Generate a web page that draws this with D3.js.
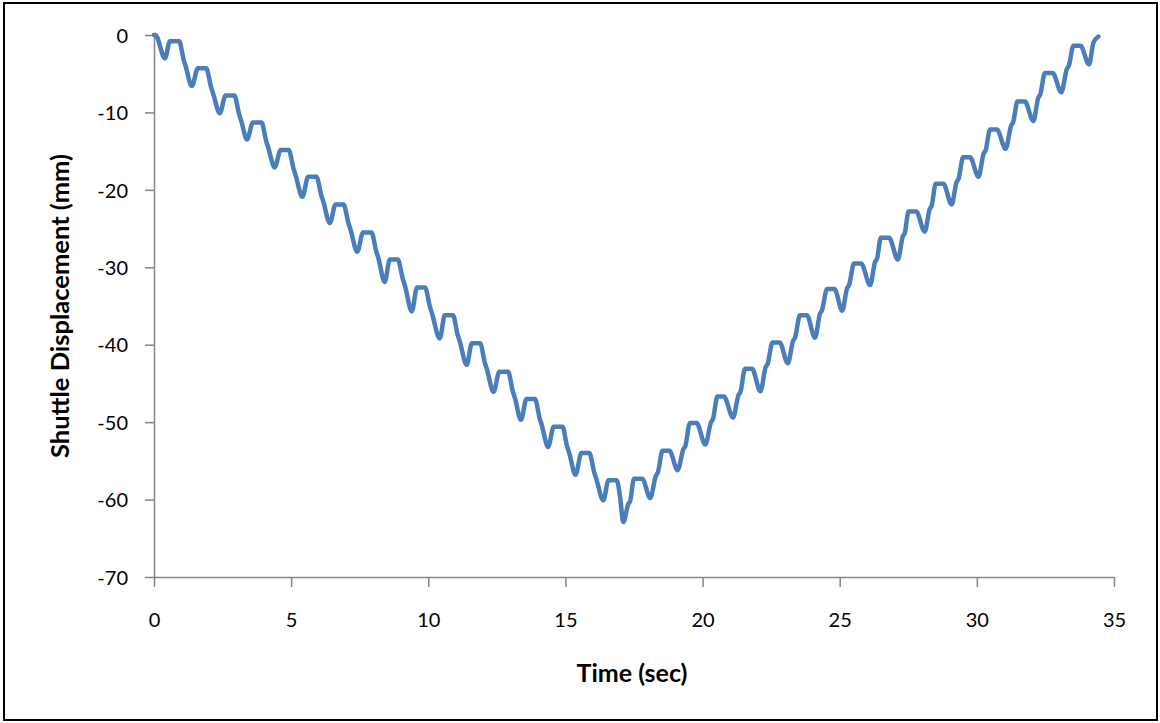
<!DOCTYPE html>
<html>
<head>
<meta charset="utf-8">
<script src="https://cdn.jsdelivr.net/npm/d3@7"></script>
<style>
  html, body { margin: 0; padding: 0; background: #fff; }
  svg { display: block; }
  .tick text { font-family: Lato, "Open Sans", sans-serif; font-size: 20px; fill: #000; }
</style>
</head>
<body>
<svg id="chart" width="1160" height="723"></svg>
<script>
// ---- Data ----
const xTicks = [0, 5, 10, 15, 20, 25, 30, 35];
const yTicks = [0, -10, -20, -30, -40, -50, -60, -70];

// Descending half: time (s) and shuttle displacement (mm)
const timeDown = [
  0.00, 0.05, 0.40, 0.58, 0.92, 1.08, 1.16, 1.38,
  1.60, 1.90, 2.08, 2.16, 2.40,
  2.61, 2.93, 3.10, 3.18, 3.39,
  3.61, 3.92, 4.09, 4.17, 4.40,
  4.62, 4.91, 5.09, 5.17, 5.41,
  5.62, 5.92, 6.10, 6.18, 6.41,
  6.62, 6.91, 7.09, 7.17, 7.41,
  7.62, 7.93, 8.10, 8.18, 8.41,
  8.60, 8.89, 9.07, 9.15, 9.40,
  9.59, 9.88, 10.06, 10.14, 10.42,
  10.60, 10.90, 11.07, 11.15, 11.40,
  11.59, 11.89, 12.06, 12.14, 12.38,
  12.59, 12.91, 13.08, 13.16, 13.38,
  13.58, 13.89, 14.06, 14.14, 14.37,
  14.57, 14.89, 15.06, 15.14, 15.37,
  15.58, 15.87, 16.05, 16.13, 16.38,
  16.57, 16.87, 16.99, 17.11
];
const dispDown = [
  0.0, 0.0, -3.0, -0.8, -0.8, -3.2, -4.1, -6.6,
  -4.3, -4.3, -6.7, -7.6, -10.1,
  -7.8, -7.8, -10.2, -11.1, -13.5,
  -11.3, -11.3, -13.7, -14.6, -17.1,
  -14.85, -14.85, -17.3, -18.2, -20.9,
  -18.3, -18.3, -20.7, -21.6, -24.3,
  -21.9, -21.9, -24.3, -25.2, -28.0,
  -25.5, -25.5, -27.9, -28.8, -31.9,
  -29.0, -29.0, -31.5, -32.4, -35.7,
  -32.6, -32.6, -35.1, -36.0, -39.2,
  -36.2, -36.2, -38.7, -39.6, -42.6,
  -39.8, -39.8, -42.3, -43.2, -46.1,
  -43.5, -43.5, -46.0, -46.9, -49.7,
  -47.0, -47.0, -49.5, -50.4, -53.2,
  -50.6, -50.6, -53.1, -54.0, -56.8,
  -54.0, -54.0, -56.5, -57.4, -60.1,
  -57.5, -57.5, -59.6, -62.9
];

// Ascending half: time (s) and shuttle displacement (mm)
const timeUp = [
  17.29, 17.36, 17.50, 17.80, 18.09,
  18.30, 18.37, 18.54, 18.79, 19.09,
  19.30, 19.37, 19.54, 19.78, 20.10,
  20.31, 20.38, 20.54, 20.78, 21.11,
  21.31, 21.38, 21.55, 21.80, 22.11,
  22.30, 22.37, 22.55, 22.81, 23.11,
  23.30, 23.37, 23.55, 23.80, 24.10,
  24.28, 24.35, 24.54, 24.81, 25.09,
  25.27, 25.34, 25.52, 25.78, 26.11,
  26.29, 26.36, 26.50, 26.80, 27.12,
  27.30, 27.37, 27.51, 27.79, 28.10,
  28.28, 28.35, 28.50, 28.78, 29.08,
  29.26, 29.33, 29.50, 29.75, 30.06,
  30.25, 30.32, 30.48, 30.73, 31.05,
  31.25, 31.32, 31.48, 31.75, 32.06,
  32.24, 32.31, 32.48, 32.76, 33.08,
  33.28, 33.35, 33.52, 33.78, 34.09,
  34.25, 34.43
];
const dispUp = [
  -60.6, -60.2, -57.3, -57.3, -59.8,
  -56.9, -56.5, -53.7, -53.7, -56.2,
  -53.5, -53.1, -50.1, -50.1, -52.9,
  -50.0, -49.6, -46.7, -46.7, -49.4,
  -46.5, -46.1, -43.1, -43.1, -46.0,
  -42.9, -42.5, -39.7, -39.7, -42.4,
  -39.5, -39.1, -36.2, -36.2, -39.1,
  -36.0, -35.6, -32.8, -32.8, -35.6,
  -32.7, -32.3, -29.5, -29.5, -32.3,
  -29.3, -28.9, -26.2, -26.2, -29.0,
  -26.0, -25.6, -22.8, -22.8, -25.4,
  -22.5, -22.1, -19.2, -19.2, -21.9,
  -19.0, -18.6, -15.8, -15.8, -18.3,
  -15.3, -14.9, -12.2, -12.2, -14.7,
  -11.7, -11.3, -8.6, -8.6, -11.1,
  -8.1, -7.7, -4.9, -4.9, -7.4,
  -4.4, -4.0, -1.4, -1.4, -3.8,
  -1.0, -0.2
];

const xTitle = "Time (sec)";
const yTitle = "Shuttle Displacement (mm)";

// ---- Build ----
const points = timeDown.map((t, i) => ({ t, v: dispDown[i] }))
  .concat(timeUp.map((t, i) => ({ t, v: dispUp[i] })));

const svg = d3.select("#chart");
const plot = { left: 154, right: 1114, top: 35, bottom: 577 };

// Outer frame
svg.append("rect")
  .attr("x", 4).attr("y", 3)
  .attr("width", 1153).attr("height", 717)
  .attr("fill", "#fff").attr("stroke", "#000").attr("stroke-width", 2);

const x = d3.scaleLinear().domain([0, 35]).range([plot.left, plot.right]);
const y = d3.scaleLinear().domain([-70, 0]).range([plot.bottom, plot.top]);

const axisColor = "#868686";

const gx = svg.append("g")
  .attr("transform", `translate(0,${plot.bottom})`)
  .call(d3.axisBottom(x).tickValues(xTicks).tickSize(10).tickSizeOuter(0).tickPadding(26).tickFormat(d3.format("d")));
const gy = svg.append("g")
  .attr("transform", `translate(${plot.left},0)`)
  .call(d3.axisLeft(y).tickValues(yTicks).tickSize(9).tickSizeOuter(0).tickPadding(17).tickFormat(d => String(d)));

[gx, gy].forEach(g => {
  g.select(".domain").attr("stroke", axisColor).attr("stroke-width", 1.5);
  g.selectAll(".tick line").attr("stroke", axisColor).attr("stroke-width", 1.5);
});
gy.selectAll(".tick text").attr("dy", "0.36em");

// Line
const line = d3.line()
  .x(d => x(d.t))
  .y(d => y(d.v))
  .curve(d3.curveMonotoneX);

svg.append("path")
  .datum(points)
  .attr("fill", "none")
  .attr("stroke", "#4a7ebb")
  .attr("stroke-width", 4.5)
  .attr("stroke-linejoin", "round")
  .attr("stroke-linecap", "round")
  .attr("d", line);

// Titles
svg.append("text")
  .attr("x", 632)
  .attr("y", 682)
  .attr("text-anchor", "middle")
  .attr("font-family", "Lato, 'Open Sans', sans-serif")
  .attr("font-weight", "bold")
  .attr("font-size", 25)
  .text(xTitle);

svg.append("text")
  .attr("transform", `translate(69,${(plot.top + plot.bottom) / 2}) rotate(-90)`)
  .attr("text-anchor", "middle")
  .attr("font-family", "Lato, 'Open Sans', sans-serif")
  .attr("font-weight", "bold")
  .attr("font-size", 25.5)
  .text(yTitle);
</script>
</body>
</html>
